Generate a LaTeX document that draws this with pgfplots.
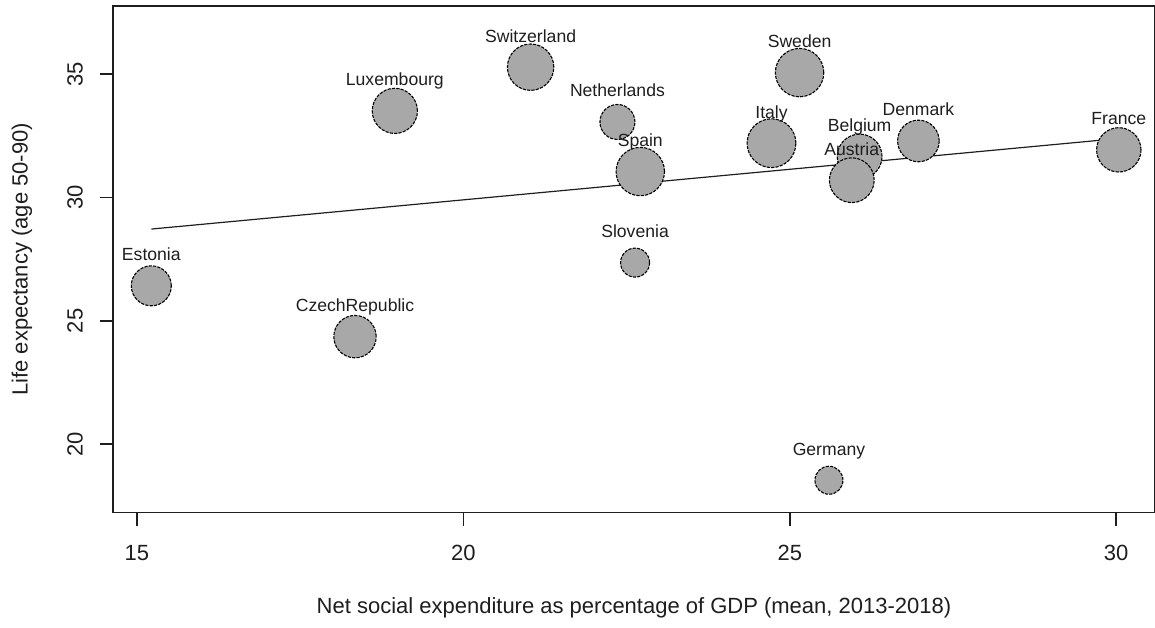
\documentclass[border=0pt]{standalone}
\usepackage{fontspec}
\setmainfont{Liberation Sans}
\usepackage{pgfplots}
\usepackage{pgfplotstable}
\pgfplotsset{compat=1.18}

\definecolor{bubble}{HTML}{A8A8A8}
\definecolor{ink}{HTML}{1E1E1E}

% x: net social expenditure (% of GDP), y: life expectancy (age 50-90),
% r: bubble radius in pt
\pgfplotstableread{
x     y     r     name
15.22 26.42 10.0  Estonia
18.34 24.36 10.6  CzechRepublic
18.95 33.51 11.3  Luxembourg
21.03 35.28 11.6  Switzerland
22.36 33.06 8.75  Netherlands
22.71 31.05 12.1  Spain
22.63 27.36 7.25  Slovenia
24.72 32.20 12.2  Italy
25.15 35.06 12.1  Sweden
25.60 18.54 7.0   Germany
26.07 31.66 11.2  Belgium
25.95 30.70 11.2  Austria
26.97 32.29 10.4  Denmark
30.04 31.93 11.1  France
}\countries

\begin{document}
\begin{tikzpicture}
\useasboundingbox (-56.65pt,-57.65pt) rectangle (521pt,256.35pt);
\begin{axis}[
  at={(0pt,0pt)}, anchor=south west,
  scale only axis, width=520.85pt, height=253.35pt,
  xmin=14.637, xmax=30.59, ymin=17.23, ymax=37.76,
  xtick={15,20,25,30}, ytick={20,25,30,35},
  tick align=outside, major tick length=6.5pt,
  xtick pos=bottom, ytick pos=left,
  axis line style={line width=0.8pt, ink},
  every tick/.style={ink, line width=0.8pt},
  /pgf/number format/assume math mode=true,
  tick label style={font=\fontsize{11}{13}\selectfont, text=ink},
  xticklabel style={anchor=center},
  xticklabel shift=13.65pt,
  yticklabel style={anchor=center, rotate=90},
  yticklabel shift=12.65pt,
  xlabel={Net social expenditure as percentage of GDP (mean, 2013-2018)},
  ylabel={Life expectancy (age 50-90)},
  label style={font=\fontsize{11}{13}\selectfont, text=ink},
  xlabel style={at={(axis description cs:0.5,-0.1881)}, anchor=center},
  ylabel style={at={(axis description cs:-0.08765,0.5)}, anchor=center, rotate=0},
]
% fitted line, drawn beneath the bubbles
\addplot[ink, line width=0.6pt] coordinates {(15.22,28.72) (30.04,32.39)};

% bubbles, radius taken from column r, dashed outline
\addplot[
  scatter, only marks, mark=*,
  mark options={line width=0.55pt, dash pattern=on 1.6pt off 0.6pt},
  scatter/use mapped color={draw=black, fill=bubble},
  visualization depends on={\thisrow{r} \as \rad},
  scatter/@pre marker code/.append style={
    /tikz/mark size=\rad,
    /tikz/line width=0.55pt,
    /tikz/dash pattern=on 1.6pt off 0.6pt},
] table[x=x, y=y] {\countries};

% country names above the bubbles
\addplot[
  only marks, mark=none,
  point meta=explicit symbolic,
  nodes near coords,
  every node near coord/.append style={
    font=\fontsize{8.8}{10}\selectfont, text=ink,
    inner sep=0pt, text depth=0pt, yshift=12.35pt},
] table[x=x, y=y, meta=name] {\countries};
\end{axis}
\end{tikzpicture}
\end{document}
